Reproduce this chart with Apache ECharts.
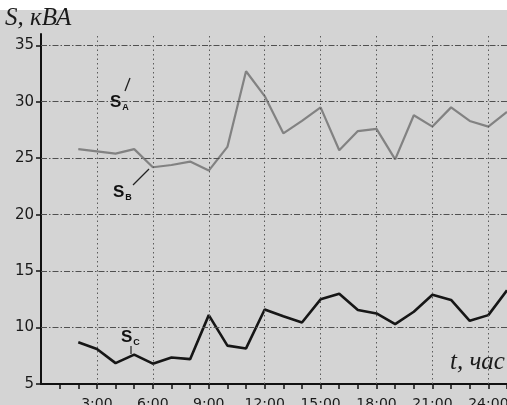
<!DOCTYPE html>
<html>
<head>
<meta charset="utf-8">
<script src="https://cdn.jsdelivr.net/npm/echarts@6/dist/echarts.min.js"></script>
<style>
  html, body { margin: 0; padding: 0; background: #fff; }
  #chart { width: 507px; height: 405px; background: linear-gradient(#ffffff 0, #ffffff 10px, #d4d4d4 10px, #d4d4d4 100%); }
</style>
</head>
<body>
<div id="chart"></div>
<script>
// hours of the day for the measured load
var hours = [2, 3, 4, 5, 6, 7, 8, 9, 10, 11, 12, 13, 14, 15, 16, 17, 18, 19, 20, 21, 22, 23, 24, 25];
// apparent power of phases A/B (upper curve) and C, kVA
var sA = [25.8, 25.6, 25.4, 25.8, 24.2, 24.4, 24.7, 23.9, 26.0, 32.7, 30.5, 27.2, 28.3, 29.5, 25.7, 27.4, 27.6, 24.9, 28.8, 27.8, 29.5, 28.3, 27.8, 29.1];
var sC = [8.7, 8.1, 6.85, 7.6, 6.8, 7.35, 7.2, 11.1, 8.4, 8.15, 11.6, 11.0, 10.45, 12.5, 13.0, 11.55, 11.25, 10.3, 11.4, 12.9, 12.45, 10.6, 11.1, 13.3];
// axis ticks
var yTicks = [5, 10, 15, 20, 25, 30, 35];
var xLabelHours = [3, 6, 9, 12, 15, 18, 21, 24];
var xTickHours = [1, 2, 3, 4, 5, 6, 7, 8, 9, 10, 11, 12, 13, 14, 15, 16, 17, 18, 19, 20, 21, 22, 23, 24, 25];

function pairs(xs, ys) { return xs.map(function (x, i) { return [x, ys[i]]; }); }

var gridH = yTicks.filter(function (v) { return v > 5; }).map(function (v) {
  return { yAxis: v, lineStyle: { color: '#505050', width: 1, type: [6, 2, 1.5, 2] } };
});
var gridV = xLabelHours.map(function (h) {
  return { xAxis: h, lineStyle: { color: '#5a5a5a', width: 1, type: [1.5, 3] } };
});

// phase label with a subscript letter
function phaseLabel(letter, left, top) {
  return {
    type: 'text', left: left, top: top,
    style: {
      text: '{s|S}{sub|' + letter + '}',
      rich: {
        s: { fontFamily: 'Liberation Sans', fontSize: 17, fontWeight: 'bold', fill: '#111', lineHeight: 18 },
        sub: { fontFamily: 'Liberation Sans', fontSize: 9, fontWeight: 'bold', fill: '#111', padding: [10, 0, 0, 1], lineHeight: 18 }
      }
    }
  };
}

var chart = echarts.init(document.getElementById('chart'), null, { renderer: 'canvas' });
chart.setOption({
  animation: false,
  backgroundColor: 'transparent',
  grid: { left: 41, right: 0, top: 34, bottom: 21, containLabel: false, outerBoundsMode: 'none' },
  xAxis: {
    type: 'value', min: 0, max: 25, interval: 1,
    axisLine: { show: true, onZero: false, lineStyle: { color: '#111', width: 2 } },
    axisTick: { show: true, customValues: xTickHours, length: 5, lineStyle: { color: '#111', width: 1.5 } },
    axisLabel: {
      customValues: xLabelHours, margin: 13,
      fontFamily: 'DejaVu Sans', fontSize: 14, color: '#1a1a1a',
      formatter: function (v) { return v + ':00'; }
    },
    splitLine: { show: false }
  },
  yAxis: {
    type: 'value', min: 5, max: 36, interval: 1,
    axisLine: { show: true, onZero: false, lineStyle: { color: '#111', width: 2 } },
    axisTick: { show: true, customValues: yTicks, length: 5, lineStyle: { color: '#111', width: 1.5 } },
    axisLabel: {
      customValues: yTicks, margin: 7,
      fontFamily: 'DejaVu Sans', fontSize: 15, color: '#1a1a1a'
    },
    splitLine: { show: false }
  },
  series: [
    {
      type: 'line', data: [], z: 1, silent: true,
      markLine: { silent: true, symbol: 'none', label: { show: false }, data: gridH.concat(gridV) }
    },
    {
      name: 'S_A', type: 'line', data: pairs(hours, sA), z: 3,
      showSymbol: false, symbol: 'none',
      lineStyle: { color: '#828282', width: 2.2 }
    },
    {
      name: 'S_C', type: 'line', data: pairs(hours, sC), z: 4,
      showSymbol: false, symbol: 'none',
      lineStyle: { color: '#161616', width: 2.6 }
    }
  ],
  graphic: [
    { type: 'text', left: 5, top: 6, style: { text: 'S, кВА', fontFamily: 'Liberation Serif', fontStyle: 'italic', fontSize: 25, fill: '#1a1a1a' } },
    { type: 'text', left: 450, top: 350, style: { text: 't, час', fontFamily: 'Liberation Serif', fontStyle: 'italic', fontSize: 25, fill: '#1a1a1a' } },
    phaseLabel('A', 110, 93),
    { type: 'line', shape: { x1: 125, y1: 91, x2: 130, y2: 78 }, style: { stroke: '#222', lineWidth: 1.3 } },
    phaseLabel('B', 113, 183),
    { type: 'line', shape: { x1: 133, y1: 185, x2: 149, y2: 169 }, style: { stroke: '#222', lineWidth: 1.3 } },
    phaseLabel('C', 121, 328),
    { type: 'line', shape: { x1: 131, y1: 346, x2: 131, y2: 354 }, style: { stroke: '#222', lineWidth: 1.2 } }
  ]
});
</script>
</body>
</html>
